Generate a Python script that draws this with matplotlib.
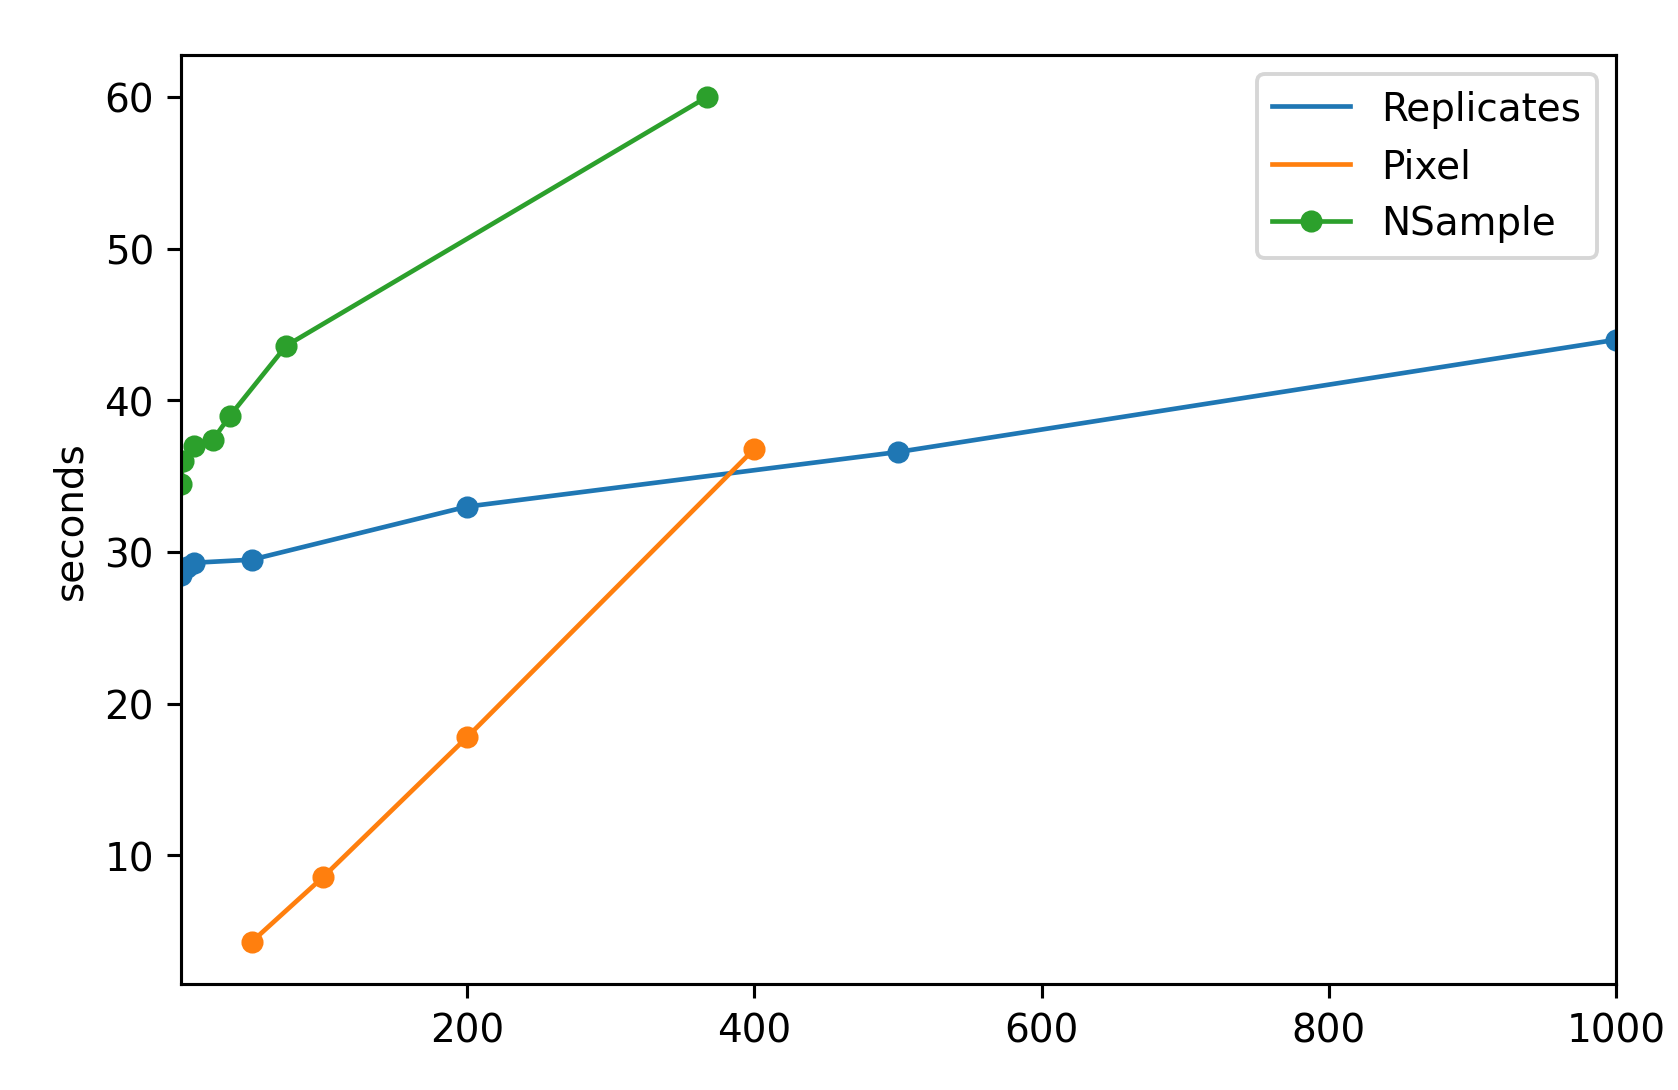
import matplotlib
matplotlib.use("Agg")
import matplotlib.pyplot as plt

rep_x = [1, 5, 10, 50, 200, 500, 1000]
rep_y = [28.5, 29.0, 29.3, 29.5, 33.0, 36.6, 44.0]
pix_x = [50, 100, 200, 400]
pix_y = [4.3, 8.6, 17.8, 36.8]
ns_x = [1, 2, 10, 23, 35, 74, 367]
ns_y = [34.5, 36.0, 37.0, 37.4, 39.0, 43.6, 60.0]

fig = plt.figure(figsize=(6.0, 3.9), dpi=279.7)
ax = fig.add_axes([0.108, 0.097, 0.855, 0.852])
ax.plot(rep_x, rep_y, color="C0", lw=1.2, label="Replicates")
ax.scatter(rep_x, rep_y, color="C0", s=22)
ax.plot(pix_x, pix_y, color="C1", lw=1.2, label="Pixel")
ax.scatter(pix_x, pix_y, color="C1", s=22)
ax.plot(ns_x, ns_y, "o-", color="C2", lw=1.2, markersize=4.7, label="NSample")
ax.set_xlim(1, 1000)
ax.set_ylabel("seconds")
ax.legend(loc="upper right")
fig.savefig("out.png")
